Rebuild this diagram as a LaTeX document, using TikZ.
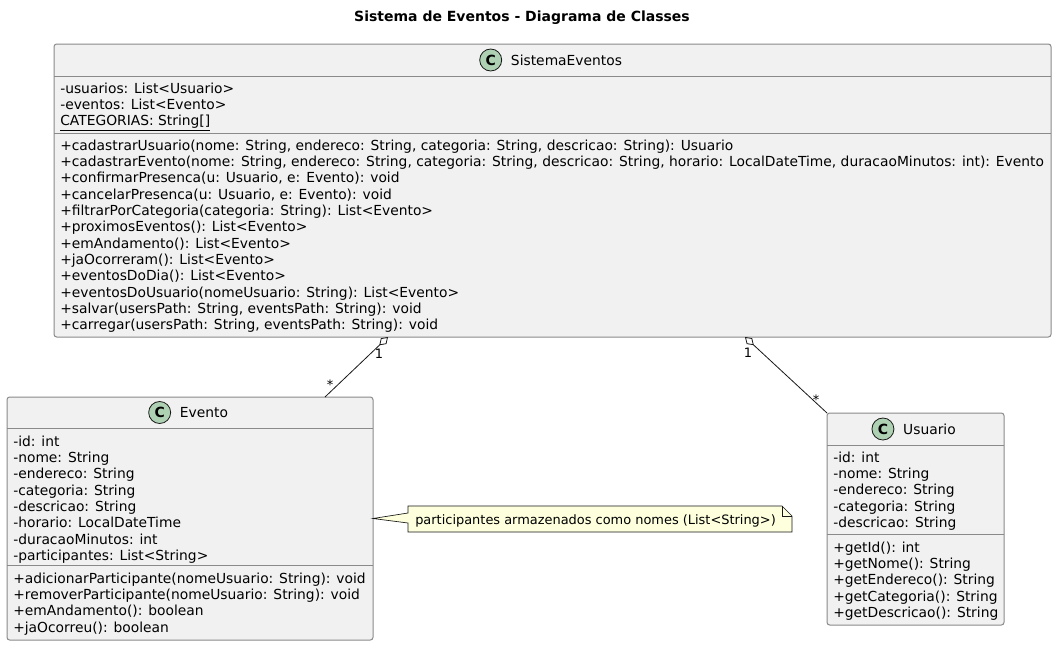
\documentclass[tikz,border=0pt]{standalone}
\usepackage{fontspec}
\setmainfont{DejaVu Sans}
\usetikzlibrary{arrows.meta,calc}
\definecolor{boxfill}{HTML}{F1F1F1}
\definecolor{boxline}{HTML}{8A8A8A}
\definecolor{ink}{HTML}{181818}
\definecolor{iconfill}{HTML}{ADD1B2}
\definecolor{notefill}{HTML}{FEFFDD}
\newcommand{\umlfont}{\fontsize{10.38}{12.23}\selectfont\lineskiplimit=-20pt}
\newcommand{\smallumlfont}{\fontsize{9.7}{11.5}\selectfont}
\newcommand{\fl}{\rule{0pt}{9pt}}
\tikzset{
  classbox/.style={draw=boxline, fill=boxfill, line width=0.75pt, rounded corners=2pt,
    inner sep=0pt, outer sep=0pt, anchor=north west},
  sepline/.style={draw=boxline, line width=0.75pt},
  comp/.style={anchor=north west, inner sep=0pt, align=left, font=\umlfont, text=black},
  hdr/.style={anchor=base, inner sep=0pt, font=\umlfont, text=black},
  icon/.style={circle, draw=ink, fill=iconfill, line width=0.6pt, minimum size=16.5pt,
    inner sep=0pt, font=\bfseries\fontsize{10.5}{12}\selectfont},
  conn/.style={draw=ink, line width=0.6pt},
  agg/.style={conn, {Diamond[open, length=9pt, width=6pt, line width=0.6pt]}-},
  mult/.style={anchor=base, inner sep=0pt, font=\smallumlfont},
  titlestyle/.style={inner sep=0pt, font=\bfseries\fontsize{10.5}{12}\selectfont},
  notebody/.style={draw=none, inner sep=0pt, outer sep=0pt,
    minimum width=288pt, minimum height=19.5pt},
  noteline/.style={draw=ink, fill=notefill, line width=0.5pt, line join=miter},
}
\begin{document}
\begin{tikzpicture}[x=0.75pt, y=-0.75pt]
\useasboundingbox (0,0) rectangle (1057,646);
\fill[white] (0,0) rectangle (1057,646);

\node[titlestyle] (title) at (522,18) {Sistema de Eventos - Diagrama de Classes};

% ---------- SistemaEventos ----------
\node[classbox, minimum width=747.75pt, minimum height=219.75pt] (sis) at (54,44) {};
\draw[sepline] ($(sis.north west)+(0,32)$) -- ($(sis.north east)+(0,32)$);
\draw[sepline] ($(sis.north west)+(0,89)$) -- ($(sis.north east)+(0,89)$);
\node[hdr] (sisname) at (566.5,65) {SistemaEventos};
\node[icon] (sisicon) at ($(sisname.base west)+(-20,-5)$) {C};
\node[comp] (sisattr) at (60,81) {\fl-usuarios: List<Usuario>\\-eventos: List<Evento>\\\underline{CATEGORIAS: String[]}};
\node[comp] (sismeth) at (60,138) {\fl+cadastrarUsuario(nome: String, endereco: String, categoria: String, descricao: String): Usuario\\
+cadastrarEvento(nome: String, endereco: String, categoria: String, descricao: String, horario: LocalDateTime, duracaoMinutos: int): Evento\\
+confirmarPresenca(u: Usuario, e: Evento): void\\
+cancelarPresenca(u: Usuario, e: Evento): void\\
+filtrarPorCategoria(categoria: String): List<Evento>\\
+proximosEventos(): List<Evento>\\
+emAndamento(): List<Evento>\\
+jaOcorreram(): List<Evento>\\
+eventosDoDia(): List<Evento>\\
+eventosDoUsuario(nomeUsuario: String): List<Evento>\\
+salvar(usersPath: String, eventsPath: String): void\\
+carregar(usersPath: String, eventsPath: String): void};

% ---------- Evento ----------
\node[classbox, minimum width=274.5pt, minimum height=182.25pt] (evt) at (7,397) {};
\draw[sepline] ($(evt.north west)+(0,31)$) -- ($(evt.north east)+(0,31)$);
\draw[sepline] ($(evt.north west)+(0,168)$) -- ($(evt.north east)+(0,168)$);
\node[hdr] (evtname) at (204,417.5) {Evento};
\node[icon] (evticon) at ($(evtname.base west)+(-20,-5)$) {C};
\node[comp] (evtattr) at (13,434) {\fl-id: int\\-nome: String\\-endereco: String\\-categoria: String\\-descricao: String\\-horario: LocalDateTime\\-duracaoMinutos: int\\-participantes: List<String>};
\node[comp] (evtmeth) at (13,571) {\fl+adicionarParticipante(nomeUsuario: String): void\\+removerParticipante(nomeUsuario: String): void\\+emAndamento(): boolean\\+jaOcorreu(): boolean};

% ---------- Usuario ----------
\node[classbox, minimum width=132.75pt, minimum height=159pt] (usr) at (827,413) {};
\draw[sepline] ($(usr.north west)+(0,32)$) -- ($(usr.north east)+(0,32)$);
\draw[sepline] ($(usr.north west)+(0,121)$) -- ($(usr.north east)+(0,121)$);
\node[hdr] (usrname) at (929.5,434) {Usuario};
\node[icon] (usricon) at ($(usrname.base west)+(-20,-5)$) {C};
\node[comp] (usrattr) at (833,450) {\fl-id: int\\-nome: String\\-endereco: String\\-categoria: String\\-descricao: String};
\node[comp] (usrmeth) at (833,540) {\fl+getId(): int\\+getNome(): String\\+getEndereco(): String\\+getCategoria(): String\\+getDescricao(): String};

% ---------- Note ----------
\node[notebody] (note) at (600,519) {};
\path[noteline] (note.north west) -- ($(note.north east)+(-10,0)$) -- ($(note.north east)+(0,10)$)
  -- (note.south east) -- (note.south west) -- ($(note.west)+(0,4)$) -- (evt.east)
  -- ($(note.west)+(0,-6)$) -- cycle;
\draw[noteline, fill=none] ($(note.north east)+(-10,0)$) -- ($(note.north east)+(-10,10)$) -- ($(note.north east)+(0,10)$);
\node[anchor=base west, inner sep=0pt, font=\smallumlfont] (notetext) at (415,524) {participantes armazenados como nomes (List<String>)};

% ---------- Connectors ----------
\draw[agg] ($(sis.south west)+(334,0)$) -- ($(evt.north west)+(318,0)$);
\draw[agg] ($(sis.south west)+(691,0)$) -- (usr.north west);
\node[mult] (m1a) at (379,358) {1};
\node[mult] (m1b) at (330,389) {*};
\node[mult] (m2a) at (748,357) {1};
\node[mult] (m2b) at (816,404) {*};
\end{tikzpicture}
\end{document}
